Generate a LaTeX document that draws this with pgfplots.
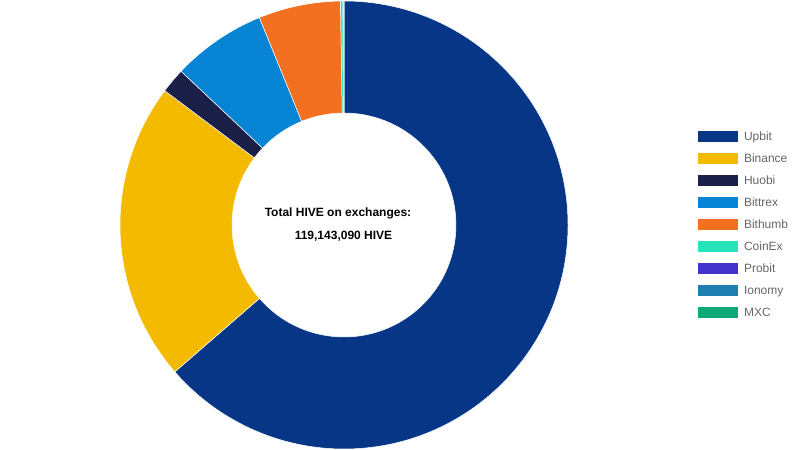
\documentclass[border=0pt]{standalone}
\usepackage{pgfplots}
\usepackage{pgfplotstable}
\pgfplotsset{compat=1.18}
\usepackage{fontspec}
\setmainfont{Liberation Sans}
\definecolor{cUpbit}{HTML}{063685}
\definecolor{cBinance}{HTML}{F3BA00}
\definecolor{cHuobi}{HTML}{1B2048}
\definecolor{cBittrex}{HTML}{0784D3}
\definecolor{cBithumb}{HTML}{F37021}
\definecolor{cCoinEx}{HTML}{27E4B8}
\definecolor{cProbit}{HTML}{4433CC}
\definecolor{cIonomy}{HTML}{1F7DB0}
\definecolor{cMXC}{HTML}{0BA878}
\definecolor{legtext}{HTML}{666666}

\pgfplotstableread{
name value color
Upbit 75800000 cUpbit
Binance 25750000 cBinance
Huobi 2150000 cHuobi
Bittrex 8100000 cBittrex
Bithumb 7050000 cBithumb
CoinEx 200000 cCoinEx
Probit 50000 cProbit
Ionomy 30000 cIonomy
MXC 13090 cMXC
}\datatable

\pgfplotstablegetrowsof{\datatable}
\pgfmathtruncatemacro\lastrow{\pgfplotsretval-1}
\xdef\total{0}
\foreach \i in {0,...,\lastrow}{%
  \pgfplotstablegetelem{\i}{value}\of\datatable
  \xdef\total{\fpeval{\total+\pgfplotsretval}}%
}
\xdef\cum{0}
\foreach \i in {0,...,\lastrow}{%
  \pgfplotstablegetelem{\i}{value}\of\datatable
  \edef\v{\pgfplotsretval}%
  \expandafter\xdef\csname sa\i\endcsname{\fpeval{90-360*\cum/\total}}%
  \xdef\cum{\fpeval{\cum+\v}}%
  \expandafter\xdef\csname ea\i\endcsname{\fpeval{90-360*\cum/\total}}%
  \pgfplotstablegetelem{\i}{color}\of\datatable
  \expandafter\xdef\csname col\i\endcsname{\pgfplotsretval}%
}

\begin{document}
\begin{tikzpicture}
\begin{axis}[
  hide axis, scale only axis, disabledatascaling,
  x=1bp, y=1bp, xmin=0, xmax=798, ymin=0, ymax=450,
  clip=false,
  legend image code/.code={\fill[#1, draw=none] (0bp,-5bp) rectangle (39.5bp,6bp);},
  legend style={draw=none, fill=none, at={(axis cs:698,318.5)}, anchor=north west,
    inner sep=0pt, outer sep=0pt, row sep=10.5bp, column sep=6.5bp,
    font=\fontsize{12bp}{14bp}\selectfont, text=legtext,
    nodes={inner sep=0pt, text height=8.6bp, text depth=2.4bp}},
  legend cell align=left,
]
\path (axis cs:0,0) rectangle (axis cs:798,450);
\pgfplotsinvokeforeach{0,...,8}{%
  \fill[\csname col#1\endcsname, draw=white, line width=0.5bp, shift={(axis cs:344,225)}]
    (\csname sa#1\endcsname:224bp) arc[start angle=\csname sa#1\endcsname, end angle=\csname ea#1\endcsname, radius=224bp]
    -- (\csname ea#1\endcsname:112bp) arc[start angle=\csname ea#1\endcsname, end angle=\csname sa#1\endcsname, radius=112bp] -- cycle;
}
\node[font=\fontsize{12bp}{14bp}\selectfont\bfseries] at (axis cs:338,237) {Total HIVE on exchanges:};
\node[font=\fontsize{12bp}{14bp}\selectfont\bfseries] at (axis cs:343.5,214) {119,143,090 HIVE};
\addlegendimage{fill=cUpbit}
\addlegendimage{fill=cBinance}
\addlegendimage{fill=cHuobi}
\addlegendimage{fill=cBittrex}
\addlegendimage{fill=cBithumb}
\addlegendimage{fill=cCoinEx}
\addlegendimage{fill=cProbit}
\addlegendimage{fill=cIonomy}
\addlegendimage{fill=cMXC}
\legend{Upbit,Binance,Huobi,Bittrex,Bithumb,CoinEx,Probit,Ionomy,MXC}
\end{axis}
\end{tikzpicture}
\end{document}
